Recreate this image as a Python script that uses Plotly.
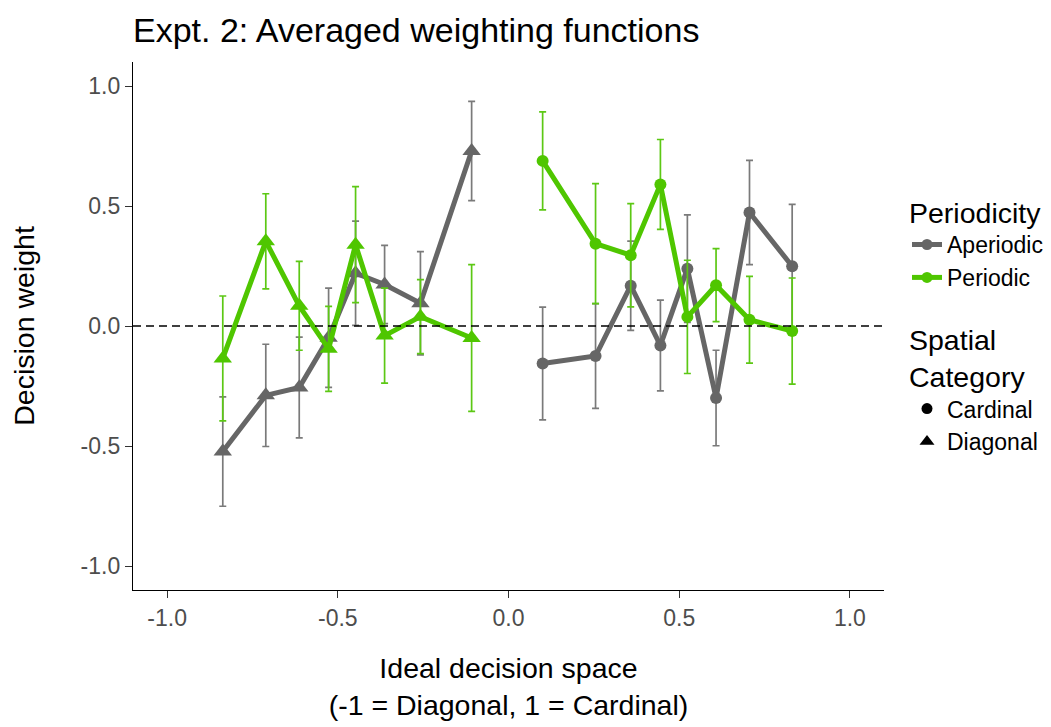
import plotly.graph_objects as go

# ---- data ----
diag_x = [-0.837, -0.711, -0.613, -0.527, -0.448, -0.363, -0.258, -0.108]
card_x = [0.100, 0.255, 0.358, 0.445, 0.524, 0.608, 0.706, 0.831]

aper_diag_y = [-0.523, -0.289, -0.256, -0.049, 0.220, 0.173, 0.095, 0.729]
aper_diag_err = [0.228, 0.213, 0.210, 0.207, 0.217, 0.163, 0.215, 0.207]
per_diag_y = [-0.135, 0.353, 0.084, -0.095, 0.339, -0.040, 0.039, -0.050]
per_diag_err = [0.260, 0.198, 0.185, 0.177, 0.242, 0.198, 0.154, 0.306]

aper_card_y = [-0.156, -0.125, 0.168, -0.081, 0.239, -0.300, 0.473, 0.249]
aper_card_err = [0.235, 0.218, 0.186, 0.189, 0.224, 0.199, 0.217, 0.258]
per_card_y = [0.688, 0.343, 0.295, 0.590, 0.038, 0.170, 0.026, -0.021]
per_card_err = [0.204, 0.250, 0.215, 0.187, 0.236, 0.152, 0.181, 0.221]

ref_level = 0.0
tick_vals = [-1.0, -0.5, 0.0, 0.5, 1.0]
tick_text = ["-1.0", "-0.5", "0.0", "0.5", "1.0"]

GRAY = "#666666"
GREEN = "#4fc600"
GRAY_ERR = "#7a7a7a"
GREEN_ERR = "#5cc814"
FONT = "Liberation Sans, Arial, sans-serif"

fig = go.Figure()


def add_series(x, y, err, color, ecolor, symbol, msize):
    fig.add_trace(go.Scatter(
        x=x, y=y, mode="lines+markers",
        line=dict(color=color, width=5),
        marker=dict(color=color, symbol=symbol, size=msize),
        error_y=dict(type="data", array=err, visible=True, color=ecolor,
                     thickness=1.7, width=3.5),
        showlegend=False, hoverinfo="x+y"))


add_series(diag_x, aper_diag_y, aper_diag_err, GRAY, GRAY_ERR, "triangle-up", 16)
add_series(card_x, aper_card_y, aper_card_err, GRAY, GRAY_ERR, "circle", 12)
add_series(diag_x, per_diag_y, per_diag_err, GREEN, GREEN_ERR, "triangle-up", 16)
add_series(card_x, per_card_y, per_card_err, GREEN, GREEN_ERR, "circle", 12)

# legend entries
fig.add_trace(go.Scatter(x=[None], y=[None], mode="lines+markers", name="Aperiodic",
                         line=dict(color=GRAY, width=5),
                         marker=dict(color=GRAY, size=11), legend="legend"))
fig.add_trace(go.Scatter(x=[None], y=[None], mode="lines+markers", name="Periodic",
                         line=dict(color=GREEN, width=5),
                         marker=dict(color=GREEN, size=11), legend="legend"))
fig.add_trace(go.Scatter(x=[None], y=[None], mode="markers", name="Cardinal",
                         marker=dict(color="black", size=11, symbol="circle"),
                         legend="legend2"))
fig.add_trace(go.Scatter(x=[None], y=[None], mode="markers", name="Diagonal",
                         marker=dict(color="black", size=13, symbol="triangle-up"),
                         legend="legend2"))

fig.add_hline(y=ref_level, line=dict(color="black", width=1.6, dash="8px,5px"))

axis_common = dict(
    showgrid=False, zeroline=False, showline=True, linecolor="black", linewidth=1.3,
    ticks="outside", ticklen=7, tickcolor="#333333", tickwidth=1,
    tickfont=dict(family=FONT, size=23, color="#4d4d4d"),
    tickvals=tick_vals, ticktext=tick_text,
)

fig.update_layout(
    width=1051, height=727,
    paper_bgcolor="white", plot_bgcolor="white",
    margin=dict(l=133, r=167, t=62, b=137),
    font=dict(family=FONT, color="black"),
    title=dict(text="Expt. 2: Averaged weighting functions",
               font=dict(family=FONT, size=34, color="black"),
               x=133 / 1051, xanchor="left", xref="container",
               y=1 - 30 / 727, yanchor="middle", yref="container"),
    xaxis=dict(range=[-1.1, 1.1], **axis_common,
               title=dict(text="Ideal decision space<br>(-1 = Diagonal, 1 = Cardinal)",
                          font=dict(family=FONT, size=28.5, color="black"), standoff=28)),
    yaxis=dict(range=[-1.1, 1.1], **axis_common,
               title=dict(text="Decision weight",
                          font=dict(family=FONT, size=28.5, color="black"), standoff=37)),
    legend=dict(title=dict(text="Periodicity", font=dict(family=FONT, size=28.5)),
                font=dict(family=FONT, size=23), itemwidth=30,
                x=907 / 1051, xref="container", xanchor="left",
                y=1 - 186 / 727, yref="container", yanchor="top",
                bgcolor="rgba(0,0,0,0)"),
    legend2=dict(title=dict(text="Spatial<br>Category", font=dict(family=FONT, size=28.5)),
                 font=dict(family=FONT, size=23), itemwidth=30,
                 x=907 / 1051, xref="container", xanchor="left",
                 y=1 - 313 / 727, yref="container", yanchor="top",
                 bgcolor="rgba(0,0,0,0)"),
)

fig.write_html("out.html")
